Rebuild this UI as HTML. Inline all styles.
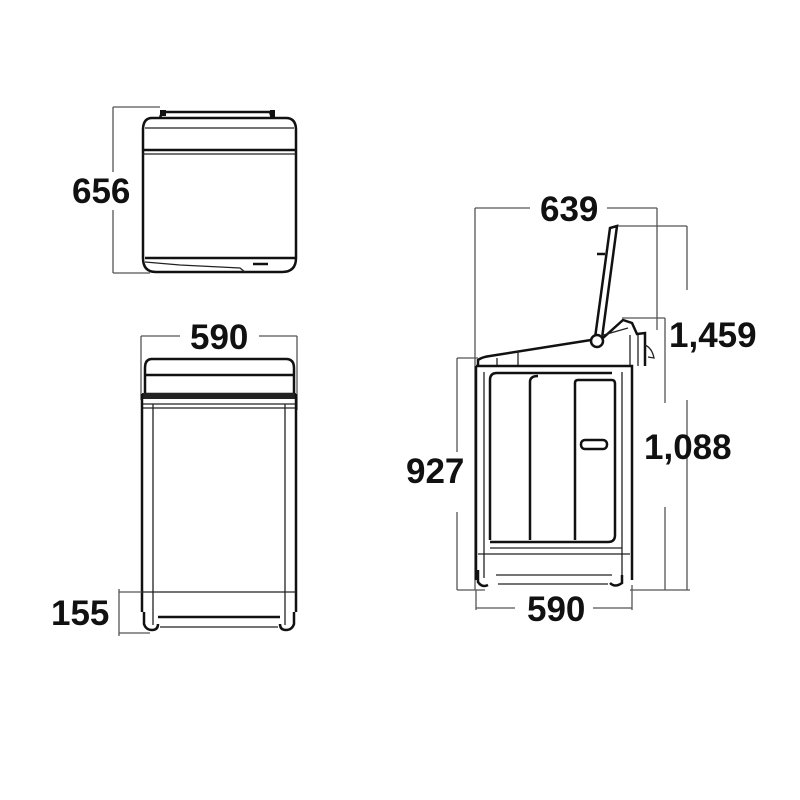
<!DOCTYPE html>
<html><head><style>body{margin:0;background:#fff}svg{display:block}</style></head>
<body>
<svg width="800" height="800" viewBox="0 0 800 800" xmlns="http://www.w3.org/2000/svg">
<style>
.t{font-family:"Liberation Sans",sans-serif;font-weight:bold;font-size:35px;fill:#111}
.d{stroke:#555;stroke-width:1.3;fill:none}
.k{stroke:#111;fill:none;stroke-width:2.5}
.k1{stroke:#222;fill:none;stroke-width:1.3}
</style>

<!-- TOP VIEW -->
<line class="d" x1="113" y1="107" x2="113" y2="172"/>
<line class="d" x1="113" y1="210" x2="113" y2="273"/>
<line class="d" x1="113" y1="107" x2="160" y2="107"/>
<line class="d" x1="113" y1="273" x2="150" y2="273"/>
<text class="t" x="72" y="203">656</text>
<path class="k" d="M152 118 H286 Q296 118 296 130 V258 Q296 272 282 272 H156 Q143 272 143 258 V130 Q143 118 152 118 Z"/>
<path class="k" d="M160 118 L162 112 H270 L272 118"/>
<rect x="160" y="110" width="6" height="6" fill="#111"/>
<rect x="270" y="110" width="5" height="7" fill="#111"/>
<line class="k" x1="143" y1="150" x2="296" y2="150"/>
<line class="k1" x1="143" y1="154" x2="296" y2="154"/>
<line class="k1" x1="145" y1="128" x2="294" y2="128"/>
<line class="k" x1="145" y1="258" x2="296" y2="258"/>
<path class="k1" d="M145 262 L180 265 L240 268 L245 272"/>
<line class="k" x1="253" y1="264" x2="268" y2="264"/>

<!-- FRONT VIEW -->
<line class="d" x1="141" y1="336" x2="180" y2="336"/>
<line class="d" x1="259" y1="336" x2="297" y2="336"/>
<line class="d" x1="141" y1="336" x2="141" y2="400"/>
<line class="d" x1="297" y1="336" x2="297" y2="410"/>
<text class="t" x="190" y="349">590</text>
<path class="k" d="M152 359 H286 Q294 359 294 368 V394 H145 V368 Q145 359 152 359 Z"/>
<line class="k" x1="145" y1="375" x2="294" y2="375"/>
<rect x="142" y="393" width="154" height="6" fill="#222"/>
<line class="k1" x1="142" y1="404" x2="296" y2="404"/>
<line class="k1" x1="142" y1="408" x2="296" y2="408"/>
<path class="k" d="M142 394 V612 M296 394 V612"/>
<line class="k1" x1="153" y1="404" x2="153" y2="625"/>
<line class="k1" x1="285" y1="404" x2="285" y2="625"/>
<line class="k1" x1="142" y1="592" x2="296" y2="592"/>
<path class="k" d="M144 612 V624 Q146 630 152 630 Q158 630 158 624 M280 624 Q280 630 286 630 Q292 630 294 624 V612"/>
<line class="k" x1="158" y1="617" x2="280" y2="617"/>
<line class="k1" x1="160" y1="627" x2="278" y2="627"/>
<line class="d" x1="119" y1="589" x2="119" y2="636"/>
<line class="d" x1="119" y1="592" x2="142" y2="592"/>
<line class="d" x1="119" y1="633" x2="150" y2="633"/>
<text class="t" x="51" y="625">155</text>

<!-- SIDE VIEW -->
<line class="d" x1="475" y1="208" x2="530" y2="208"/>
<line class="d" x1="607" y1="208" x2="657" y2="208"/>
<line class="d" x1="475" y1="208" x2="475" y2="590"/>
<line class="d" x1="657" y1="208" x2="657" y2="330"/>
<text class="t" x="540" y="221">639</text>

<line class="d" x1="615" y1="226" x2="687" y2="226"/>
<line class="d" x1="687" y1="226" x2="687" y2="290"/>
<line class="d" x1="687" y1="400" x2="687" y2="590"/>
<line class="d" x1="622" y1="318" x2="665" y2="318"/>
<line class="d" x1="665" y1="318" x2="665" y2="403"/>
<line class="d" x1="665" y1="507" x2="665" y2="590"/>
<line class="d" x1="630" y1="590" x2="690" y2="590"/>
<text class="t" x="669" y="347">1,459</text>
<text class="t" x="644" y="459">1,088</text>

<line class="d" x1="457" y1="358" x2="478" y2="358"/>
<line class="d" x1="457" y1="358" x2="457" y2="452"/>
<line class="d" x1="457" y1="512" x2="457" y2="590"/>
<line class="d" x1="457" y1="590" x2="485" y2="590"/>
<text class="t" x="406" y="483">927</text>

<line class="d" x1="476" y1="590" x2="476" y2="610"/>
<line class="d" x1="632" y1="585" x2="632" y2="610"/>
<line class="d" x1="476" y1="608" x2="515" y2="608"/>
<line class="d" x1="593" y1="608" x2="632" y2="608"/>
<text class="t" x="527" y="621">590</text>

<!-- lid -->
<path d="M595 338 L610 228 L617 226 L602 338 Z" fill="#fff" stroke="#111" stroke-width="2.5"/>
<line x1="597" y1="254" x2="605" y2="254" stroke="#111" stroke-width="2.5"/>
<circle cx="597" cy="341" r="6" fill="#fff" stroke="#111" stroke-width="2.5"/>
<!-- top surface -->
<path class="k" d="M478 366 L478 360 Q482 357 490 356 L591 340"/>
<path class="k" d="M603 338 L623 320 L632 323 L637 334 L645 333 L645 366"/>
<line class="k1" x1="630" y1="335" x2="630" y2="366"/>
<line class="k1" x1="638" y1="335" x2="638" y2="366"/>
<line class="k1" x1="600" y1="336" x2="628" y2="328"/>
<line class="k1" x1="518" y1="351" x2="518" y2="366"/>
<line class="k1" x1="497" y1="358" x2="497" y2="366"/>
<path class="k1" d="M645 345 Q652 348 654 358 L648 357"/>
<!-- body -->
<path class="k" d="M476 366 H632 V580"/>
<line class="k" x1="476" y1="366" x2="476" y2="580"/>
<line class="k1" x1="484" y1="372" x2="484" y2="578"/>
<line class="k1" x1="622" y1="372" x2="622" y2="578"/>
<line class="k" x1="497" y1="373" x2="612" y2="373"/>
<path class="k" d="M490 540 V380 Q490 373 497 373"/>
<path class="k" d="M530 540 V382 Q530 376 538 376"/>
<path class="k" d="M575 540 V383 Q575 380 578 380 H612 Q615 380 615 384 V535 Q615 542 608 542 H490"/>
<rect x="581" y="440" width="26" height="9" rx="4" class="k"/>
<line class="k1" x1="490" y1="548" x2="622" y2="548"/>
<line class="k1" x1="478" y1="554" x2="630" y2="554"/>
<path class="k" d="M478 570 V582 Q482 588 488 585 M610 583 Q615 588 622 583 V575"/>
<path class="k1" d="M496 575 H612 M498 584 H608"/>
</svg>
</body></html>
